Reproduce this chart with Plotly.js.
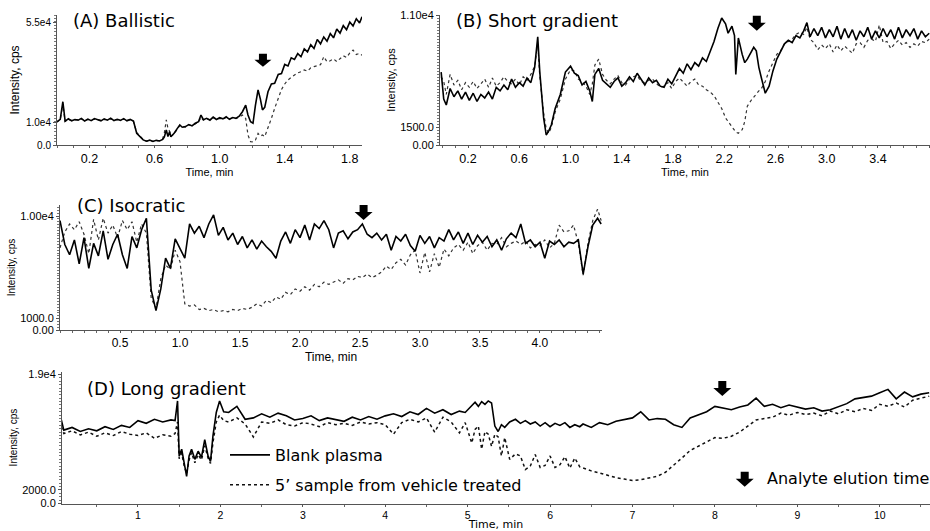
<!DOCTYPE html>
<html>
<head>
<meta charset="utf-8">
<script src="https://cdn.plot.ly/plotly-3.0.1.min.js"></script>
<style>html,body{margin:0;padding:0;background:#fff;}#chart{width:930px;height:531px;}</style>
</head>
<body>
<div id="chart"></div>
<script>
// ---------------- DATA ----------------
// Panel A – Ballistic
const tA = [0.00,0.02,0.036,0.05,0.07,0.09,0.11,0.13,0.15,0.17,
 0.19,0.21,0.23,0.25,0.27,0.29,0.31,0.33,0.35,0.37,
 0.39,0.41,0.43,0.45,0.47,0.49,0.51,0.53,0.55,0.57,
 0.59,0.61,0.63,0.65,0.66,0.672,0.682,0.692,0.70,0.72,
 0.74,0.755,0.77,0.79,0.81,0.83,0.85,0.87,0.885,0.90,
 0.92,0.94,0.96,0.98,1.00,1.02,1.04,1.06,1.08,1.10,
 1.12,1.14,1.16,1.174,1.19,1.205,1.22,1.236,1.25,1.263,
 1.277,1.297,1.318,1.338,1.36,1.38,1.40,1.42,1.44,1.46,
 1.48,1.50,1.52,1.54,1.56,1.58,1.60,1.62,1.64,1.66,
 1.68,1.70,1.72,1.74,1.76,1.78,1.80,1.82,1.84,1.86,1.875];
const blankA = [10500,11600,19500,10800,11800,10900,11500,11200,12000,10800,
 11700,11000,11900,11300,10900,11800,11200,12100,11000,11600,
 11100,11900,10900,11500,10800,5300,3700,2300,1700,2200,
 1600,2100,1800,2500,3600,6800,3800,6000,3700,5300,
 7500,9000,8000,8300,9200,8600,9800,10500,13500,11400,
 12000,11200,12600,11500,12300,11800,12700,11600,12400,12000,
 13000,15000,18000,13500,10500,9800,18000,24800,20800,15800,
 17000,24000,27500,27800,31800,32200,36300,35600,39300,38600,
 41200,39800,43300,42000,45200,43500,47600,45600,48700,46800,
 50200,48300,52300,50400,53800,52000,55400,53600,56900,55000,57800];
const vehA = [10300,11400,18500,10600,11500,11100,11300,11500,11700,11000,
 11500,11200,11600,11500,11100,11500,11400,11800,11200,11400,
 11300,11600,11100,11300,10600,5600,3900,2400,1800,2000,
 1700,2000,2000,3000,5500,11300,7500,6200,4000,5000,
 7200,8800,8200,8100,9000,8800,9500,10300,12500,11200,
 11800,11500,12300,11700,12000,11600,12400,11800,12200,12000,
 12500,13500,12000,4500,1500,1400,2200,5200,4000,4500,
 3800,7500,12000,16500,20500,25000,27500,29300,30500,31500,
 32500,33000,33800,33300,34800,35300,35800,36200,39800,37500,
 38000,38800,37600,39000,40200,39500,41500,42800,40800,41300,40500];

// Panel B – Short gradient
const tB = [-0.01,0.01,0.03,0.06,0.09,0.12,0.15,0.18,0.21,0.24,
 0.27,0.30,0.33,0.36,0.39,0.42,0.45,0.48,0.51,0.54,
 0.57,0.60,0.63,0.66,0.69,0.72,0.744,0.76,0.79,0.81,
 0.83,0.85,0.88,0.92,0.96,1.00,1.03,1.06,1.09,1.12,
 1.15,1.17,1.19,1.22,1.25,1.28,1.31,1.34,1.37,1.40,
 1.43,1.46,1.49,1.52,1.55,1.58,1.61,1.64,1.67,1.70,
 1.73,1.76,1.79,1.82,1.85,1.88,1.91,1.94,1.97,2.00,
 2.03,2.06,2.09,2.12,2.15,2.18,2.21,2.23,2.26,2.28,
 2.29,2.31,2.34,2.36,2.38,2.41,2.43,2.45,2.47,2.49,
 2.52,2.55,2.58,2.61,2.64,2.67,2.70,2.73,2.76,2.79,
 2.82,2.845,2.87,2.90,2.93,2.96,2.99,3.02,3.05,3.08,
 3.11,3.14,3.17,3.20,3.23,3.26,3.29,3.32,3.35,3.38,
 3.41,3.44,3.47,3.50,3.53,3.56,3.59,3.62,3.65,3.68,
 3.71,3.74,3.77,3.80];
const blankB = [6200,3900,3400,4800,4100,4600,3900,4500,3800,4400,
 3700,4300,4000,4500,3900,4900,4600,5100,4700,5600,
 4900,5300,5000,5700,5300,6600,9200,6200,2300,850,
 1200,1700,3100,4300,6200,6700,6100,5900,5100,5400,
 4600,3700,6000,6500,5500,5200,4900,5400,5700,5000,
 5300,5800,5400,6100,5600,5100,5700,5300,5500,5000,
 4900,5600,5200,5900,6500,6100,6900,6400,7000,6700,
 7400,7100,8000,8800,9900,10800,10300,9500,10100,9300,
 6000,9100,7700,7000,7300,7900,8300,8000,6600,5700,
 4400,5000,6300,7300,8000,8600,8900,8700,9300,9100,
 9700,10400,9200,9900,9300,10000,9100,9800,9200,10100,
 9000,9900,9100,9800,8900,9700,9200,10000,9000,9700,
 9100,9900,9200,9800,9000,10000,9100,9800,9300,9900,
 9000,9700,9200,9500];
const vehB = [5800,5400,4300,6000,5100,5500,4700,5300,4900,5400,
 4800,5200,5600,4900,5700,5000,5300,5800,5400,5200,
 5600,5100,5800,5500,6000,6700,8600,5800,2700,1400,
 1000,1500,2800,3900,5600,6400,6300,5600,5400,5000,
 4300,5200,6800,7300,6000,5500,5200,5600,5900,5300,
 5100,5600,5800,5900,5400,5300,5500,5600,5200,4900,
 5000,5300,4800,5400,5700,5300,5000,5400,5600,5100,
 5000,4700,4500,4200,3700,3100,2300,2000,1500,1200,
 1100,1000,1300,2000,3300,3800,4100,4300,4600,4800,
 5400,6300,7000,7700,8000,8600,8800,9000,9400,9600,
 9400,10000,9000,8700,8100,8500,8200,8600,7900,8500,
 8000,8400,8100,7800,8600,8700,8300,8900,9000,8800,
 10200,8700,8800,8200,8600,8900,8500,8700,8300,8600,
 8400,8800,8700,9000];

// Panel C – Isocratic
const tC = [0.00,0.04,0.08,0.12,0.16,0.20,0.24,0.28,0.32,0.36,
 0.40,0.44,0.48,0.52,0.56,0.60,0.64,0.68,0.72,0.76,
 0.80,0.84,0.88,0.92,0.96,1.00,1.04,1.08,1.12,1.16,
 1.20,1.24,1.28,1.32,1.36,1.40,1.44,1.48,1.52,1.56,
 1.60,1.64,1.68,1.72,1.76,1.80,1.84,1.88,1.92,1.96,
 2.00,2.04,2.08,2.12,2.16,2.20,2.24,2.28,2.32,2.36,
 2.40,2.44,2.48,2.52,2.56,2.60,2.64,2.68,2.72,2.76,
 2.80,2.84,2.88,2.92,2.96,3.00,3.04,3.08,3.12,3.16,
 3.20,3.24,3.28,3.32,3.36,3.40,3.44,3.48,3.52,3.56,
 3.60,3.64,3.68,3.72,3.76,3.80,3.84,3.88,3.92,3.96,
 4.00,4.04,4.08,4.12,4.16,4.20,4.24,4.28,4.32,4.36,
 4.40,4.44,4.48,4.51];
const blankC = [9600,7500,6600,7900,5800,8100,5400,7600,6500,8700,
 6200,7500,8400,6600,5400,8200,7200,8800,9800,3500,
 1700,3600,6300,5400,8000,7200,6300,9300,8500,9100,
 8100,9300,10100,8300,9000,7900,8500,7500,8200,7200,
 7900,7100,7800,7300,6900,6300,7800,8600,7600,8800,
 8100,9200,7900,9300,8900,9600,8800,7200,8500,8700,
 8000,8600,8800,9300,8400,8100,8500,7900,8400,7000,
 8200,7800,8400,7400,6900,8300,7600,8200,7200,8100,
 7800,8800,7900,8600,7600,8500,7500,8300,7700,8200,
 7300,7900,7000,8000,8500,8100,9300,7600,7900,7300,
 7700,6300,7800,7500,7900,7300,7700,7600,7900,4900,
 7300,9200,9800,9300];
const vehC = [7200,8600,9300,8800,9500,8400,6700,9700,7900,9800,
 8500,9200,8100,9600,8800,9500,7700,9300,8500,2800,
 1900,4500,5700,5300,7000,6000,2300,2100,2200,1800,
 1900,1700,1800,1600,1700,1600,1800,1700,1900,1800,
 2000,2300,2100,2600,2400,2900,2700,3300,3100,3600,
 3400,3800,3500,4000,3800,4200,4000,4200,4400,4100,
 4500,4400,4700,4600,4900,4600,4800,5100,5600,5300,
 5900,6200,5700,6600,7000,5000,6800,5100,6700,5500,
 7100,6500,7200,7500,7000,7700,6700,7400,7700,7000,
 7600,7500,8100,7300,7600,7800,7500,7800,7200,7500,
 7400,7900,7200,7600,9200,8600,8700,9200,7600,4800,
 7600,9600,10600,9600];

// Panel D – Long gradient
const tD = [0.07,0.1,0.2,0.3,0.4,0.5,0.6,0.7,0.8,0.9,1.0,1.1,1.2,1.3,1.4,
 1.45,1.48,1.50,1.53,1.56,1.59,1.62,1.65,1.69,1.73,1.77,1.81,1.85,1.88,1.91,1.95,1.99,2.04,
 2.1,2.2,2.3,2.4,2.5,2.6,2.7,2.8,2.9,3.0,3.1,3.2,3.3,3.4,3.5,3.6,3.7,3.8,3.9,4.0,4.1,4.2,4.3,4.4,4.5,4.6,4.7,4.8,4.9,
 4.97,5.05,5.09,5.13,5.17,5.21,5.25,5.29,5.33,5.37,5.41,5.45,5.51,5.58,5.64,5.70,5.76,5.82,5.88,5.94,6.0,6.06,6.12,6.18,6.24,6.30,6.36,
 6.4,6.5,6.6,6.7,6.8,6.9,7.0,7.1,7.2,7.3,7.4,7.5,7.6,7.7,7.8,7.9,8.0,8.1,8.2,8.3,8.4,8.5,8.6,8.7,8.8,8.9,9.0,9.1,9.2,9.3,9.4,9.5,9.6,9.7,9.8,9.9,10.0,10.1,10.2,10.3,10.4,10.5,10.6];
const blankD = [12300,10800,11200,10600,11000,10700,11300,10900,11500,11200,12200,11800,12400,12000,12300,
 12200,15100,7000,8000,6000,4000,7000,8000,6500,7700,6800,9400,7000,6200,10000,13400,15100,13500,
 13400,14300,12400,12600,13200,12700,13300,12900,12300,12500,12900,12200,12600,12400,12100,12700,12300,12800,12400,12900,13200,12800,13500,13100,14000,13300,13800,13100,13600,
 13400,14500,14900,14300,15000,14600,15100,14800,11400,10600,11600,11200,12000,12400,11800,12200,11700,12000,11400,11900,11300,11800,11500,11900,11200,11600,11300,
 11700,11200,11900,11600,12100,12400,12600,13500,12300,12500,12400,11600,11200,12600,13100,13500,14300,14000,13800,14200,14500,15500,14300,14600,14100,14500,14200,13900,14100,13600,13800,14300,14700,15400,15600,15800,16300,16800,15400,16400,15700,16100,16300];
const vehD = [11300,10300,10700,10100,10500,9900,10400,10000,10600,10200,10000,10400,9600,10100,9900,
 10300,12000,6600,7400,5600,4400,6400,7500,6000,7200,6400,8500,6700,5900,9000,12000,13000,12200,
 12000,12600,11700,9800,12000,11800,12300,11600,11400,11900,11700,11300,11900,11600,11800,11500,12000,11700,11900,11600,10200,11900,12400,12000,12600,10500,12700,12000,10400,
 11900,8900,10900,11400,8000,10600,10200,8400,10200,9800,7000,9700,6500,7300,7000,5000,5500,7200,5300,5600,7000,5300,5700,6900,5200,6700,5400,
 5200,4800,4500,4100,3800,3600,3400,3500,3700,4000,4600,5600,6700,7800,8400,9000,9700,9600,9900,10500,11400,12300,12500,12700,13300,13000,13400,13100,13300,12900,13600,13200,13800,13500,14000,13700,14600,14300,14800,14200,15200,15500,15800];

// Texts, ticks and analyte elution markers
const panelTitles = ['(A) Ballistic', '(B) Short gradient', '(C) Isocratic', '(D) Long gradient'];
const seriesNames = ['Blank plasma', '5\u2019 sample from vehicle treated'];
const xTickValsC = [0.5, 1.0, 1.5, 2.0, 2.5, 3.0, 3.5, 4.0];
const yTickValsA = [0, 10000, 55000], yTickTextA = ['0.0', '1.0e4', '5.5e4'];
const yTickValsB = [0, 1500, 11000], yTickTextB = ['0.00', '1500.0', '1.10e4'];
const yTickValsC = [0, 1000, 10000], yTickTextC = ['0.00', '1000.0', '1.00e4'];
const yTickValsD = [0, 2000, 19000], yTickTextD = ['0.0', '2000.0', '1.9e4'];
const elutionTime = [1.266, 2.454, 2.53, 8.09];
const elutionTipIntensity = [35300, 9720, 9650, 15820];
const analyteLabel = 'Analyte elution time';

// ---------------- sanity check ----------------
[[tA,blankA,vehA],[tB,blankB,vehB],[tC,blankC,vehC],[tD,blankD,vehD]].forEach(function(g,i){
  if (g[0].length !== g[1].length || g[0].length !== g[2].length)
    throw new Error('length mismatch in panel ' + i + ': ' + g.map(function(a){return a.length;}).join(','));
});

// ---------------- FIGURE ----------------
const W = 930, H = 531;
const px = function(v){ return v / W; };
const py = function(v){ return 1 - v / H; };
const TICKF = 'Liberation Sans, Arial, sans-serif';
const TITF = 'DejaVu Sans, sans-serif';

const panels = [
  {t: tA, b: blankA, v: vehA, xs: 'x',  ys: 'y'},
  {t: tB, b: blankB, v: vehB, xs: 'x2', ys: 'y2'},
  {t: tC, b: blankC, v: vehC, xs: 'x3', ys: 'y3'},
  {t: tD, b: blankD, v: vehD, xs: 'x4', ys: 'y4'}
];
const traces = [];
panels.forEach(function(p, i){
  traces.push({x: p.t, y: p.v, xaxis: p.xs, yaxis: p.ys, type: 'scatter', mode: 'lines',
    name: seriesNames[1], showlegend: i === 3, legendrank: 2, legendgroup: 'veh',
    line: {color: i === 3 ? '#111' : '#333', width: i === 3 ? 1.5 : 1.2, dash: 'dot'}, hoverinfo: 'skip'});
  traces.push({x: p.t, y: p.b, xaxis: p.xs, yaxis: p.ys, type: 'scatter', mode: 'lines',
    name: seriesNames[0], showlegend: i === 3, legendrank: 1, legendgroup: 'blank',
    line: {color: '#000', width: 1.6}, hoverinfo: 'skip'});
});

function xAxis(dom, range, tickCfg, minorD, tsize, titleSize, titleFont, standoff){
  const ax = {domain: dom, range: range, showline: true, linecolor: '#555', linewidth: 1,
    showgrid: false, zeroline: false, ticks: 'outside', ticklen: 2, tickcolor: '#555',
    tickfont: {family: TICKF, size: tsize, color: '#000'},
    minor: {ticks: 'outside', ticklen: 2, tickcolor: '#666', tickmode: 'linear', tick0: 0, dtick: minorD, showgrid: false},
    title: {text: 'Time, min', font: {family: titleFont, size: titleSize, color: '#000'}, standoff: standoff},
    automargin: false, fixedrange: true};
  return Object.assign(ax, tickCfg);
}
function yAxis(dom, range, vals, text, minorD, tsize, titleSize, standoff){
  return {domain: dom, range: range, showline: true, linecolor: '#555', linewidth: 1,
    showgrid: false, zeroline: false, ticks: 'outside', ticklen: 3, tickcolor: '#555',
    tickmode: 'array', tickvals: vals, ticktext: text,
    tickfont: {family: TICKF, size: tsize, color: '#000'},
    minor: {ticks: 'outside', ticklen: 2, tickcolor: '#777', tickmode: 'linear', tick0: 0, dtick: minorD, showgrid: false},
    title: {text: 'Intensity, cps', font: {family: TICKF, size: titleSize, color: '#000'}, standoff: standoff},
    automargin: false, fixedrange: true};
}

const xa = xAxis([px(57), px(362)], [0, 1.875], {tickmode: 'linear', tick0: 0.2, dtick: 0.4, tickformat: '.1f'}, 0.1, 12.5, 11, TICKF, 0); xa.anchor = 'y';
const ya = yAxis([py(145), py(15)], [0, 58600], yTickValsA, yTickTextA, 1500, 10, 12, 3); ya.anchor = 'x';
const xb = xAxis([px(440), 1], [-0.019, 3.806], {tickmode: 'linear', tick0: 0.2, dtick: 0.4, tickformat: '.1f'}, 0.1, 12.5, 11, TICKF, 0); xb.anchor = 'y2';
const yb = yAxis([py(145), py(15)], [0, 11050], yTickValsB, yTickTextB, 250, 11, 11, 2); yb.anchor = 'x2';
const xc = xAxis([px(60), px(602)], [0, 4.517], {tickmode: 'array', tickvals: xTickValsC, tickformat: '.1f'}, 0.1, 12, 12, TICKF, 0); xc.anchor = 'y3';
const yc = yAxis([py(330), py(205)], [0, 10965], yTickValsC, yTickTextC, 250, 11, 10, 2); yc.anchor = 'x3';
const xd = xAxis([px(62), 1], [0.078, 10.61], {tickmode: 'linear', tick0: 1, dtick: 1, tickformat: 'd'}, 0.5, 10.5, 11, TITF, 3); xd.anchor = 'y4';
const yd = yAxis([py(503.5), py(371.7)], [0, 19400], yTickValsD, yTickTextD, 500, 11, 10, 2); yd.anchor = 'x4';

const arrowPathBig = 'M-4,15L4,15L4,8L9,8L0,0L-9,8L-4,8Z';
const arrowPathSmall = 'M-4,13L4,13L4,7L8.5,7L0,0L-8.5,7L-4,7Z';
const axisPairs = [['x','y'],['x2','y2'],['x3','y3'],['x4','y4']];
const shapes = elutionTime.map(function(tt, i){
  return {type: 'path', xref: axisPairs[i][0], yref: axisPairs[i][1], xsizemode: 'pixel', ysizemode: 'pixel',
    xanchor: tt, yanchor: elutionTipIntensity[i], path: i === 0 ? arrowPathSmall : arrowPathBig,
    fillcolor: '#000', line: {width: 0}};
});
shapes.push({type: 'path', xref: 'paper', yref: 'paper', xsizemode: 'pixel', ysizemode: 'pixel',
  xanchor: px(744.7), yanchor: py(486.7), path: arrowPathBig, fillcolor: '#000', line: {width: 0}});

const titlePos = [[71, 21], [454, 21], [75, 205], [85, 388]];
const annotations = panelTitles.map(function(txt, i){
  return {text: txt, xref: 'paper', yref: 'paper', x: px(titlePos[i][0]), y: py(titlePos[i][1]),
    xanchor: 'left', yanchor: 'middle', showarrow: false,
    font: {family: TITF, size: 18, color: '#000'}};
});
annotations.push({text: analyteLabel, xref: 'paper', yref: 'paper', x: px(765), y: py(478),
  xanchor: 'left', yanchor: 'middle', showarrow: false, font: {family: TITF, size: 16, color: '#000'}});

const layout = {
  width: W, height: H, margin: {l: 0, r: 0, t: 0, b: 0, pad: 0},
  paper_bgcolor: '#fff', plot_bgcolor: 'rgba(0,0,0,0)',
  xaxis: xa, yaxis: ya, xaxis2: xb, yaxis2: yb, xaxis3: xc, yaxis3: yc, xaxis4: xd, yaxis4: yd,
  showlegend: true,
  legend: {x: px(225), y: py(438), xanchor: 'left', yanchor: 'top', bgcolor: 'rgba(0,0,0,0)',
    borderwidth: 0, font: {family: TITF, size: 16, color: '#000'}, tracegroupgap: 6, itemwidth: 40},
  shapes: shapes, annotations: annotations, hovermode: false
};

Plotly.newPlot('chart', traces, layout, {staticPlot: true, displayModeBar: false});
</script>
</body>
</html>
